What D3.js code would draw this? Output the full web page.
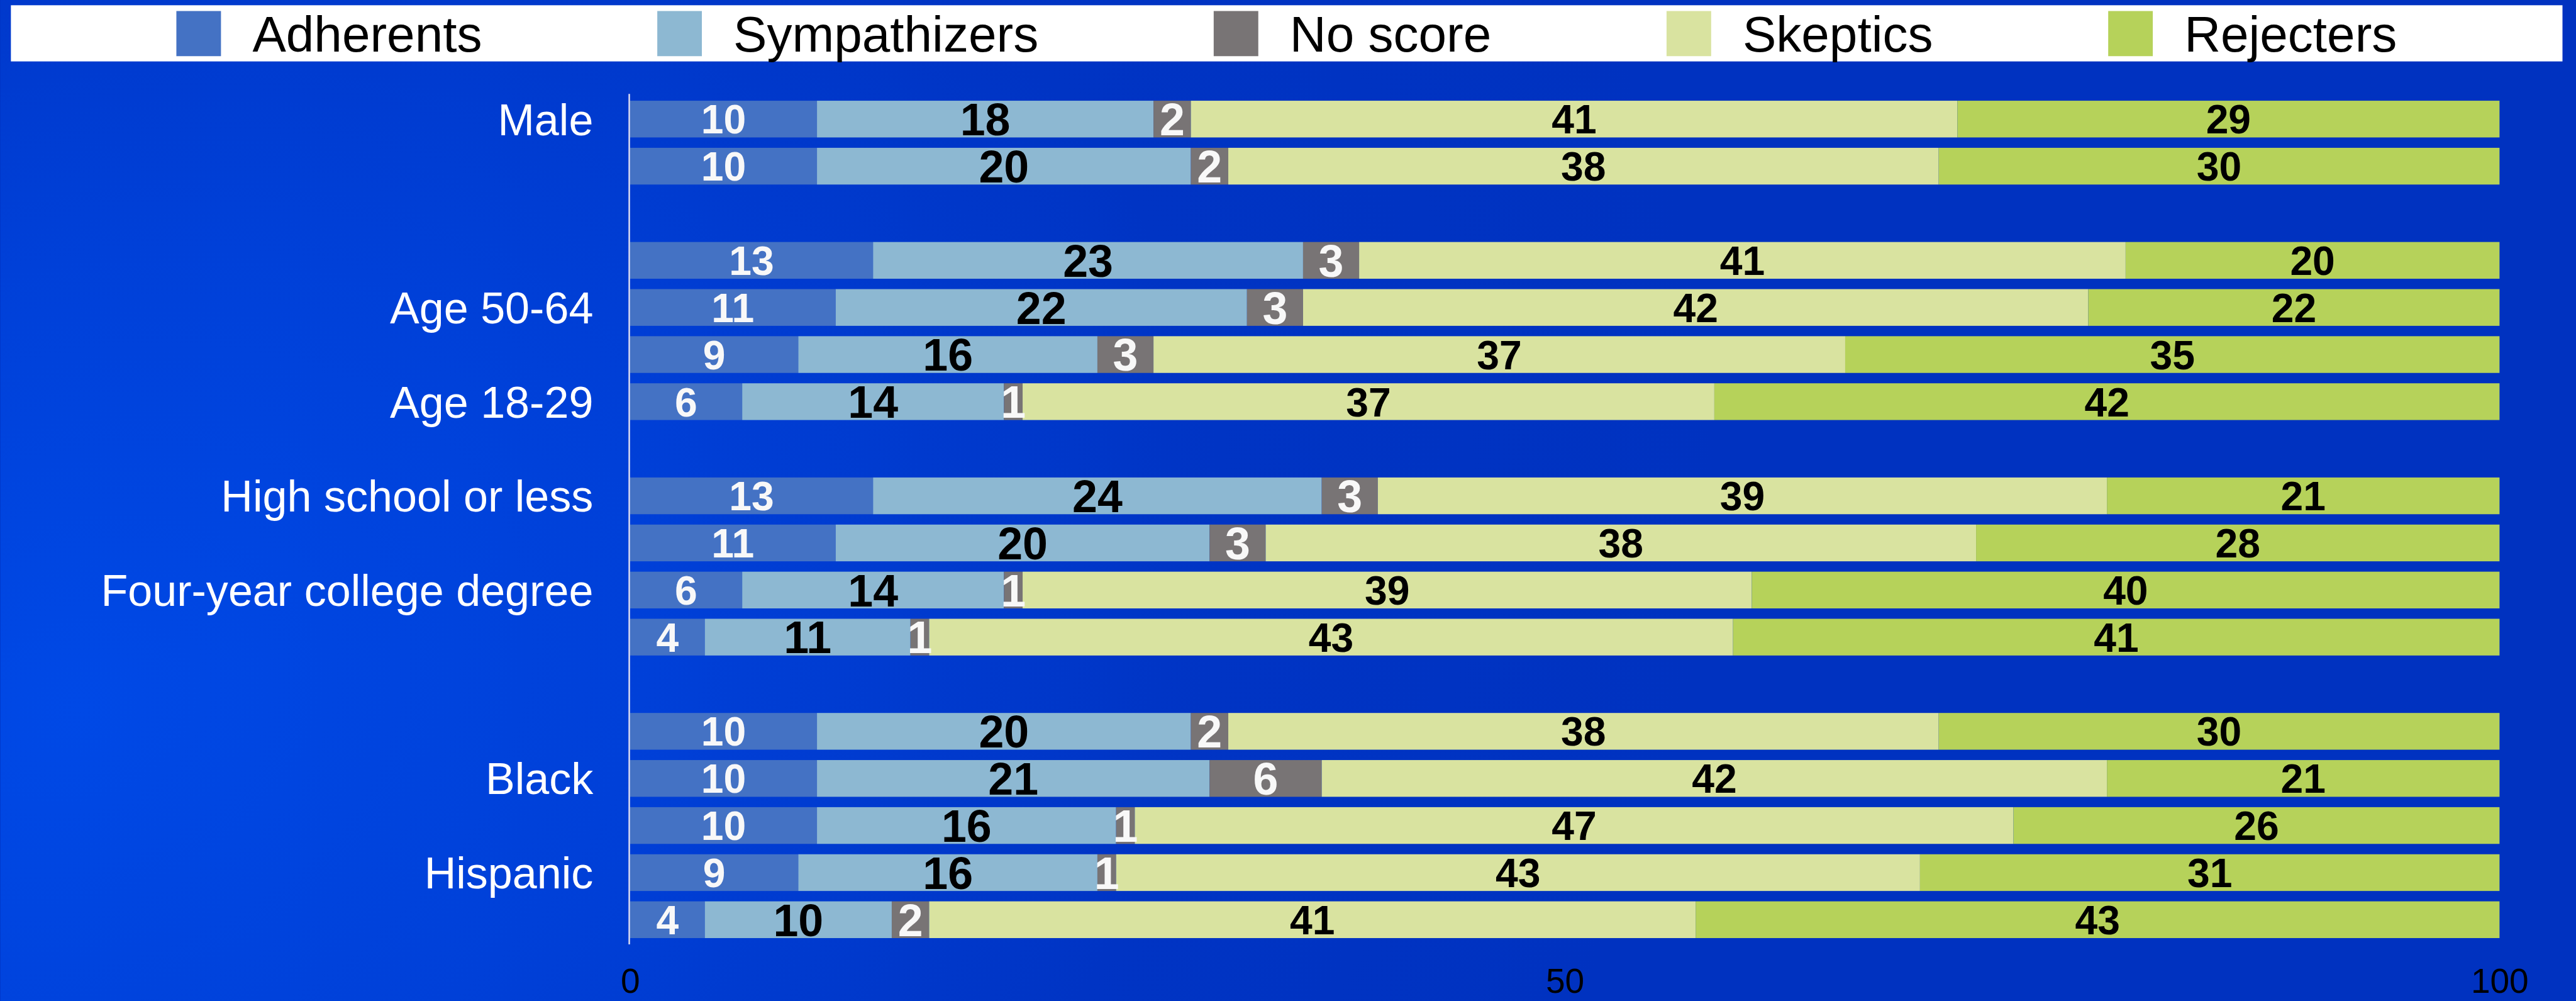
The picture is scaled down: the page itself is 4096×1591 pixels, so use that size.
<!DOCTYPE html>
<html>
<head>
<meta charset="utf-8">
<script src="https://cdn.jsdelivr.net/npm/d3@7"></script>
<style>
  html, body { margin: 0; padding: 0; overflow: hidden; background: #0033c2; }
  svg { display: block; }
  text { font-family: "Liberation Sans", Arial, Helvetica, sans-serif; }
</style>
</head>
<body>
<svg id="chart"></svg>
<script>
// Series (segments of each stacked bar, left to right)
const seriesNames = ["Adherents", "Sympathizers", "No score", "Skeptics", "Rejecters"];
const seriesColors = ["#4472c4", "#8db8d2", "#787475", "#d9e3a0", "#b6d25a"];

// Row labels; blank strings are unlabelled rows, null values mark spacer rows
const rowLabels = ["Male", "", "", "", "Age 50-64", "", "Age 18-29", "",
  "High school or less", "", "Four-year college degree", "", "", "",
  "Black", "", "Hispanic", ""];

const adherents    = [10, 10, null, 13, 11,  9,  6, null, 13, 11,  6,  4, null, 10, 10, 10,  9,  4];
const sympathizers = [18, 20, null, 23, 22, 16, 14, null, 24, 20, 14, 11, null, 20, 21, 16, 16, 10];
const noScore      = [ 2,  2, null,  3,  3,  3,  1, null,  3,  3,  1,  1, null,  2,  6,  1,  1,  2];
const skeptics     = [41, 38, null, 41, 42, 37, 37, null, 39, 38, 39, 43, null, 38, 42, 47, 43, 41];
const rejecters    = [29, 30, null, 20, 22, 35, 42, null, 21, 28, 40, 41, null, 30, 21, 26, 31, 43];

const axisTicks = [0, 50, 100];

// Drawing is laid out on a 4908 x 1907 canvas and scaled to the window
const W = 4908, H = 1907;
const svg = d3.select("#chart")
  .attr("width", window.innerWidth)
  .attr("height", window.innerHeight)
  .attr("viewBox", `0 0 ${W} ${H}`)
  .attr("preserveAspectRatio", "xMidYMid meet");

// Background: deep blue with a brighter glow on the left
const defs = svg.append("defs");
const glow = defs.append("radialGradient")
  .attr("id", "bgGlow")
  .attr("gradientUnits", "userSpaceOnUse")
  .attr("cx", 150).attr("cy", 1350).attr("r", 3200)
  .attr("gradientTransform", "rotate(-20 150 1350) scale(1 0.75) translate(0 450)");
glow.append("stop").attr("offset", "0").attr("stop-color", "#0049e6");
glow.append("stop").attr("offset", "0.35").attr("stop-color", "#0040d8");
glow.append("stop").attr("offset", "0.7").attr("stop-color", "#0034c4");
glow.append("stop").attr("offset", "1").attr("stop-color", "#0032c0");

svg.append("rect").attr("width", W).attr("height", H).attr("fill", "#0033c2");
svg.append("rect").attr("width", W).attr("height", H).attr("fill", "url(#bgGlow)");

// Table of rows for the stack
const rows = rowLabels.map((label, i) => ({
  id: i,
  label,
  blank: adherents[i] === null,
  "Adherents": adherents[i] || 0,
  "Sympathizers": sympathizers[i] || 0,
  "No score": noScore[i] || 0,
  "Skeptics": skeptics[i] || 0,
  "Rejecters": rejecters[i] || 0
}));

const stacked = d3.stack().keys(seriesNames)(rows);

const x = d3.scaleLinear().domain([0, 100]).range([1200, 4763]);
const y = d3.scaleBand()
  .domain(rows.map(d => d.id))
  .range([182, 1797])
  .paddingInner(0.22)
  .paddingOuter(0.11);

const color = d3.scaleOrdinal().domain(seriesNames).range(seriesColors);
const labelColor = { "Adherents": "#f8f8f8", "Sympathizers": "#000", "No score": "#f8f8f8", "Skeptics": "#000", "Rejecters": "#000" };
const labelSize = { "Adherents": 77, "Sympathizers": 86, "No score": 86, "Skeptics": 77, "Rejecters": 77 };

// Bars
const layers = svg.append("g").selectAll("g")
  .data(stacked)
  .join("g")
  .attr("fill", d => color(d.key));

layers.selectAll("rect")
  .data(d => d.filter(s => !s.data.blank))
  .join("rect")
  .attr("x", s => x(s[0]))
  .attr("y", s => y(s.data.id))
  .attr("width", s => x(s[1]) - x(s[0]))
  .attr("height", y.bandwidth());

// Value labels centred in each segment
const valueLabels = svg.append("g").attr("text-anchor", "middle").attr("font-weight", "bold");
stacked.forEach(layer => {
  valueLabels.append("g")
    .attr("fill", labelColor[layer.key])
    .attr("font-size", labelSize[layer.key])
    .selectAll("text")
    .data(layer.filter(s => !s.data.blank))
    .join("text")
    .attr("x", s => (x(s[0]) + x(s[1])) / 2)
    .attr("y", s => y(s.data.id) + y.bandwidth() / 2)
    .attr("dy", "0.36em")
    .text(s => s[1] - s[0]);
});

// Category axis: labels only, with a thin vertical rule
const yAxis = d3.axisLeft(y).tickSize(0).tickPadding(0).tickFormat(i => rowLabels[i]);
const yAxisG = svg.append("g")
  .attr("transform", "translate(1130,0)")
  .call(yAxis);
yAxisG.select(".domain").remove();
yAxisG.selectAll("text")
  .attr("fill", "#ffffff")
  .attr("font-size", 84)
  .attr("font-family", "\"Liberation Sans\", Arial, sans-serif")
  .attr("dy", "0.36em");

svg.append("line")
  .attr("x1", 1198.5).attr("x2", 1198.5)
  .attr("y1", 179).attr("y2", 1799)
  .attr("stroke", "#dcdcf0").attr("stroke-width", 3);

// Value axis: tick labels only
const xAxis = d3.axisBottom(x).tickValues(axisTicks).tickSize(0).tickPadding(0).tickFormat(d3.format("d"));
const xAxisG = svg.append("g")
  .attr("transform", "translate(0,1891)")
  .call(xAxis);
xAxisG.select(".domain").remove();
xAxisG.selectAll("text")
  .attr("fill", "#000")
  .attr("font-size", 66)
  .attr("font-family", "\"Liberation Sans\", Arial, sans-serif")
  .attr("dy", 0);

// Legend across the top in a white band
const legend = svg.append("g");
legend.append("rect")
  .attr("x", 20).attr("y", 10)
  .attr("width", 4863).attr("height", 107)
  .attr("fill", "#ffffff");

const swatchW = 85, swatchGap = 60, itemGap = 334;
const items = legend.selectAll("g.item")
  .data(seriesNames)
  .join("g")
  .attr("class", "item");
items.append("rect")
  .attr("y", 21).attr("width", swatchW).attr("height", 86)
  .attr("fill", d => color(d));
items.append("text")
  .attr("x", swatchW + swatchGap)
  .attr("y", 98)
  .attr("font-size", 96)
  .attr("fill", "#000")
  .text(d => d);

// Lay legend items out from their measured widths, centred in the band
let cursor = 0;
const offsets = [];
items.each(function () {
  const tw = d3.select(this).select("text").node().getComputedTextLength();
  offsets.push(cursor);
  cursor += swatchW + swatchGap + tw + itemGap;
});
const total = cursor - itemGap;
const start = 20 + (4863 - total) / 2;
items.attr("transform", (d, i) => `translate(${start + offsets[i]},0)`);
</script>
</body>
</html>
